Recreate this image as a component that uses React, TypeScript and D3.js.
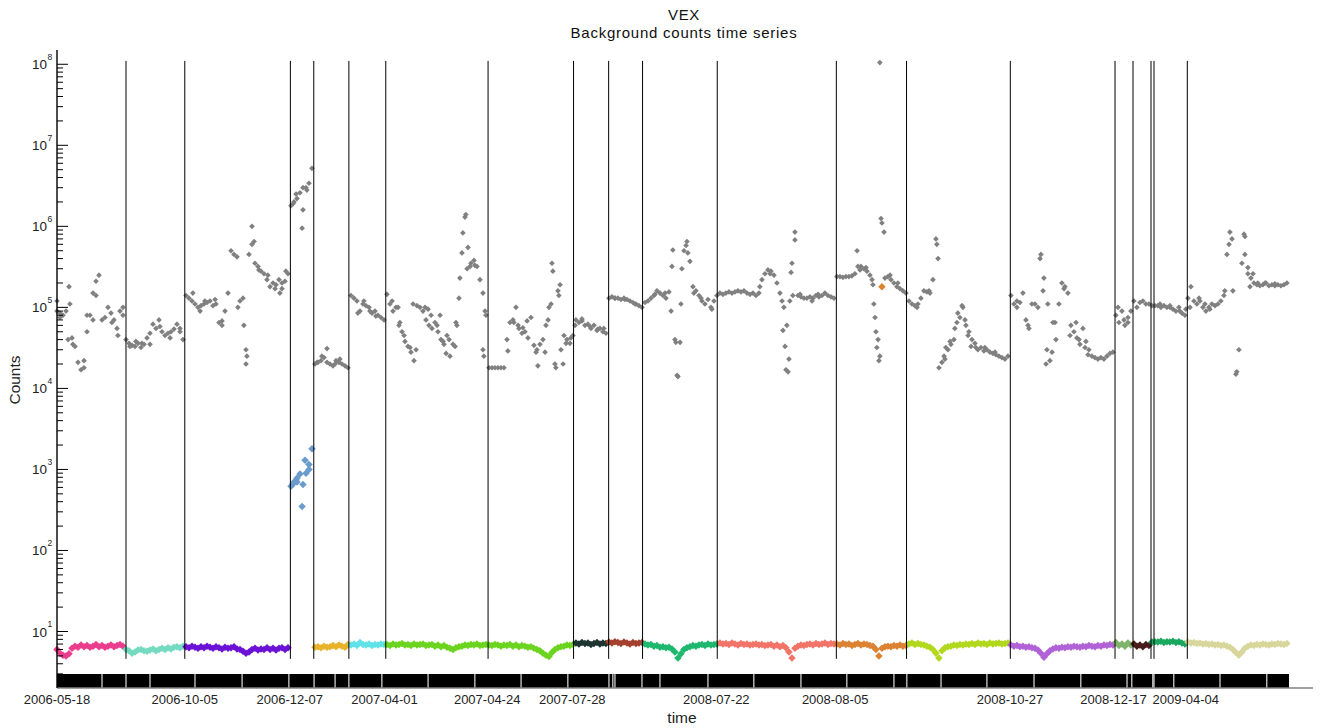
import React from "react";
import * as d3 from "d3";

const WIDTH = 1322;
const HEIGHT = 728;

const titleLines = ["VEX", "Background counts time series"];
const xLabel = "time";
const yLabel = "Counts";

// Background counts per orbit sample, one list per instrument period (sample index runs on across periods)
const backgroundCounts: number[][] = [
  [9.0e4, 8.5e4, 8.0e4, 9.0e4, 1.8e5, 4.2e4, 3.3e4, 2.1e4, 1.7e4, 1.8e4, 5.0e4, 8.0e4, 1.5e5, 2.1e5, 2.5e5, 7.0e4, 7.5e4, 1.0e5, 8.5e4, 7.0e4, 5.5e4, 9.0e4, 1.0e5],
  [4.0e4, 3.6e4, 3.4e4, 3.3e4, 3.6e4, 3.2e4, 3.5e4, 4.2e4, 4.8e4, 6.2e4, 5.5e4, 7.0e4, 5.0e4, 4.5e4, 4.8e4, 5.0e4, 5.4e4, 6.2e4, 5.0e4, 4.0e4],
  [1.4e5, 1.3e5, 1.2e5, 1.1e5, 1.0e5, 1.05e5, 1.1e5, 1.15e5, 1.2e5, 1.05e5, 1.1e5, 6.5e4, 6.0e4, 9.0e4, 1.5e5, 5.0e5, 4.5e5, 4.2e5, 1.2e5, 1.3e5, 3.0e4, 4.5e5, 6.0e5, 3.5e5, 3.2e5, 2.8e5, 2.6e5, 2.2e5, 1.8e5, 2.0e5, 1.9e5, 2.2e5, 1.7e5, 2.1e5, 2.6e5],
  [1.8e6, 2.0e6, 2.2e6, 2.6e6, 1.6e6, 3.0e6, 3.4e6, 5.2e6],
  [2.0e4, 2.1e4, 2.2e4, 2.4e4, 2.1e4, 2.0e4, 1.9e4, 2.2e4, 2.1e4, 2.0e4, 1.9e4, 1.8e4],
  [1.4e5, 1.3e5, 1.2e5, 9.0e4, 1.1e5, 1.05e5, 1.0e5, 8.5e4, 9.0e4, 8.0e4, 7.5e4, 7.0e4],
  [1.45e5, 1.1e5, 9.0e4, 1.0e5, 6.0e4, 5.0e4, 3.8e4, 3.3e4, 2.8e4, 2.2e4, 1.05e5, 1.0e5, 9.0e4, 7.0e4, 6.0e4, 5.5e4, 6.5e4, 5.0e4, 4.0e4, 3.5e4, 4.5e4, 2.5e4, 3.5e4, 6.5e4,
   1.3e5, 4.7e5, 1.3e6, 5.5e5, 3.5e5, 3.8e5, 3.2e5, 2.2e5, 1.5e5, 8.0e4, 1.8e4, 1.8e4, 1.8e4, 1.8e4, 1.8e4, 1.8e4, 4.0e4, 6.5e4, 7.0e4, 1.0e5, 5.5e4, 4.8e4, 5.0e4, 4.2e4,
   7.5e4, 3.4e4, 3.0e4, 3.5e4, 4.0e4, 6.0e4, 1.0e5, 3.5e5, 2.0e4, 1.6e5, 3.0e4, 4.5e4, 4.0e4, 3.6e4, 4.5e4],
  [7.0e4, 6.5e4, 6.8e4, 6.0e4, 6.2e4, 5.5e4, 6.0e4, 5.2e4, 5.5e4, 5.0e4, 4.8e4],
  [1.3e5, 1.35e5, 1.3e5, 1.3e5, 1.25e5, 1.3e5, 1.25e5, 1.2e5, 1.15e5, 1.1e5, 1.05e5, 1.0e5],
  [1.15e5, 1.2e5, 1.3e5, 1.4e5, 1.6e5, 1.5e5, 1.4e5, 1.3e5, 1.55e5, 3.2e5, 4.0e4, 1.4e4, 1.1e5, 5.0e5, 6.5e5, 3.7e5, 1.8e5, 1.6e5, 1.4e5, 1.2e5, 1.1e5, 1.25e5, 1.0e5, 1.2e5, 1.4e5],
  [1.5e5, 1.45e5, 1.5e5, 1.55e5, 1.5e5, 1.55e5, 1.6e5, 1.55e5, 1.6e5, 1.5e5, 1.45e5, 1.5e5, 1.4e5, 1.5e5, 2.2e5, 2.6e5, 2.9e5, 2.8e5, 2.5e5, 2.0e5,
   1.5e5, 5.2e4, 1.7e4, 2.3e4, 3.5e5, 8.5e5, 1.4e5, 1.35e5, 1.3e5, 1.3e5, 1.35e5, 1.3e5, 1.4e5, 1.35e5, 1.4e5, 1.5e5, 1.4e5, 1.35e5, 1.3e5],
  [2.4e5, 2.4e5, 2.35e5, 2.4e5, 2.4e5, 2.45e5, 2.6e5, 3.2e5, 3.2e5, 3.0e5, 2.8e5, 2.5e5, 1.9e5, 5.0e4, 2.2e4, 1.1e6, 2.3e5, 2.4e5, 2.2e5, 2.0e5, 1.8e5, 1.7e5, 1.6e5, 1.5e5],
  [1.2e5, 1.1e5, 1.05e5, 1.1e5, 1.3e5, 1.6e5, 1.55e5, 1.5e5, 2.2e5, 7.0e5, 1.8e4, 2.1e4, 2.3e4, 3.0e4, 3.5e4, 4.0e4, 6.5e4, 7.5e4, 1.0e5, 6.0e4, 5.0e4, 4.0e4, 3.6e4, 3.0e4,
   3.2e4, 2.9e4, 3.0e4, 2.8e4, 2.7e4, 2.6e4, 2.5e4, 2.4e4, 2.3e4, 2.5e4],
  [1.4e5, 1.1e5, 1.0e5, 1.15e5, 1.5e5, 7.0e4, 5.5e4, 1.1e5, 1.1e5, 1.0e5, 4.5e5, 2.3e5, 3.0e4, 2.2e4, 6.5e4, 4.0e4, 1.1e5, 2.0e5, 1.8e5, 1.5e5, 6.0e4, 5.0e4, 4.2e4, 3.5e4,
   5.5e4, 3.8e4, 3.0e4, 2.5e4, 2.4e4, 2.3e4, 2.4e4, 2.3e4, 2.5e4, 2.7e4, 2.8e4],
  [8.0e4, 6.5e4, 9.0e4, 6.0e4, 7.5e4, 9.0e4],
  [1.2e5, 1.0e5, 1.15e5, 1.2e5, 1.1e5, 1.1e5],
  [1.05e5, 1.05e5, 1.05e5, 1.0e5, 1.05e5, 1.0e5, 1.0e5, 9.5e4, 9.0e4, 1.0e5, 8.5e4, 8.0e4],
  [1.3e5, 1.8e5, 1.2e5, 1.1e5, 1.2e5, 1.0e5, 9.0e4, 1.0e5, 1.1e5, 1.05e5, 1.1e5, 1.2e5, 1.4e5, 4.5e5, 8.5e5, 1.6e5, 1.5e4, 3.0e4, 3.5e5, 7.5e5, 2.6e5, 2.3e5, 2.0e5, 1.9e5,
   1.85e5, 1.9e5, 2.0e5, 1.85e5, 1.9e5, 1.85e5, 1.9e5, 1.85e5, 1.9e5, 2.0e5],
];

// Additional background samples sharing an orbit with the series above: [sample index, counts]
const backgroundExtra: [number, number][] = [
  [0, 1.2e5], [1, 7.5e4], [3.7, 4.0e4], [4.3, 1.1e5], [5.3, 3.5e4], [9, 2.2e4], [10, 8.0e4], [12, 7.0e4], [13, 1.4e5], [18.3, 6.5e4], [20.3, 4.5e4], [22, 8.0e4],
  [24.3, 3.3e4], [26.3, 3.8e4], [28.3, 3.6e4], [31, 3.5e4], [34.3, 5.8e4], [37.7, 4.2e4], [41, 5.5e4],
  [45.3, 1.5e5], [47.7, 9.0e4], [49.3, 1.2e5], [52.7, 1.25e5], [55, 6.8e4], [60.3, 1.0e5], [63, 2.0e4], [63.3, 2.5e4], [62.3, 6.0e4], [65, 1.0e6], [65.7, 6.5e5],
  [67.3, 2.9e5], [70.3, 2.5e5], [72.7, 1.7e5], [74.3, 1.5e5], [76.3, 2.8e5], [75, 2.0e5],
  [79.7, 2.5e6], [81.7, 9.5e5], [82, 3.0e6], [83.3, 2.8e6], [78.7, 1.9e6],
  [90, 3.1e4], [88.3, 2.5e4], [94.3, 2.3e4], [86.7, 2.1e4], [92.7, 2.0e4],
  [100.3, 8.5e4], [102.3, 1.2e5], [104.3, 9.0e4], [106.3, 7.8e4],
  [111.7, 1.2e5], [113.7, 1.0e5], [114.3, 6.5e4], [115.7, 4.5e4], [117.7, 3.2e4], [119.7, 3.0e4], [118.7, 1.1e5], [122.7, 1.0e5], [123.7, 9.5e4], [124.7, 8.0e4],
  [126.7, 6.0e4], [127.7, 8.0e4], [128.7, 3.8e4], [129.7, 2.7e4], [130.7, 4.0e4], [132.7, 3.3e4], [133.3, 6.0e4], [134.3, 2.3e5], [135.3, 8.3e5], [136.3, 1.4e6],
  [136.7, 3.0e5], [137.7, 3.2e5], [139.3, 3.3e5], [142, 3.0e4], [142.3, 2.5e4], [142.7, 9.0e4],
  [150.3, 2.9e4], [152.3, 6.5e4], [153.7, 6.0e4], [155.3, 5.6e4], [156.7, 6.8e4], [159.7, 2.8e4], [160.3, 1.9e4], [162.7, 2.8e4], [163.7, 7.0e4], [164.7, 1.1e5],
  [165.3, 2.8e5], [166.3, 1.8e4], [167.3, 1.4e5], [167.7, 1.9e5], [168.7, 2.0e4], [169.7, 3.6e4], [171.3, 4.2e4],
  [172.7, 6.0e4], [175, 7.2e4], [177.7, 5.8e4], [180.3, 5.4e4], [182.3, 5.5e4],
  [186, 1.3e5], [189.3, 1.25e5], [192.7, 1.1e5],
  [204.7, 9.0e4], [205.3, 5.1e5], [206.3, 3.7e4], [206.7, 1.45e4], [207.7, 3.7e4], [208.3, 3.0e5], [209.7, 5.8e5], [210.3, 4.7e5], [212.3, 1.5e5], [214.7, 1.3e5],
  [218.3, 9.5e4], [202.7, 1.5e5], [199.3, 1.45e5],
  [241.7, 1.2e5], [242.3, 1.0e5], [242.7, 3.3e4], [243.3, 6.0e4], [243.7, 1.6e4], [244.3, 1.2e5], [244.7, 2.7e5], [246, 6.8e5], [245.3, 1.4e5], [237.7, 2.6e5],
  [247.7, 1.45e5], [251.7, 1.2e5], [253.7, 1.45e5], [234.3, 1.8e5],
  [266.7, 5.0e5], [267.7, 2.9e5], [269.7, 3.1e5], [271.7, 2.2e5], [272.3, 1.1e5], [272.7, 7.5e4], [273.3, 3.2e4], [274.3, 1.05e8], [274.7, 1.25e6], [275.7, 8.5e5],
  [274.3, 2.5e4], [273.7, 4.0e4], [277.7, 2.5e5], [280.3, 2.0e5],
  [293.3, 6.0e5], [293.7, 4.0e5], [295.7, 2.5e4], [296.3, 3.2e4], [297.7, 3.8e4], [299.3, 5.5e4], [300.3, 8.5e4], [301.7, 1.05e5], [302.7, 7.0e4], [303.7, 4.5e4],
  [304.7, 3.3e4], [306.3, 3.2e4], [309.3, 3.2e4], [312.7, 2.8e4], [286.7, 1.0e5], [290.7, 1.6e5],
  [327.7, 4.0e5], [328.7, 1.6e5], [330.3, 1.1e5], [329.7, 2.0e4], [331.7, 2.8e4], [332.7, 6.5e4], [335.7, 1.7e5], [337.7, 4.5e4], [339.7, 6.5e4], [340.7, 4.0e4],
  [342.7, 3.2e4], [343.7, 2.6e4], [320, 1.2e5], [323.7, 6.0e4],
  [353.7, 1.0e5], [355.7, 7.0e4], [357, 6.5e4],
  [367.7, 1.1e5], [371, 1.05e5], [374.3, 9.0e4], [376.3, 9.5e4],
  [377.7, 1.0e5], [380.7, 1.3e5], [382.7, 1.1e5], [384.3, 9.5e4], [389.3, 1.6e5], [390.7, 6.0e5], [391.7, 7.0e5], [393.3, 1.6e4], [395.7, 8.0e5], [396, 4.5e5],
  [397, 3.1e5], [397.7, 1.8e5], [398.7, 2.6e5], [400.3, 2.0e5], [402.7, 2.0e5], [406, 1.95e5],
];

// Source counts per orbit sample, same periods and lengths as the background lists
const sourceCounts: number[][] = [
  [6.0, 5.4, 5.1, 5.0, 5.3, 6.2, 6.6, 6.4, 6.8, 6.5, 6.7, 6.4, 6.6, 6.9, 6.5, 6.7, 6.4, 6.6, 6.8, 6.5, 6.7, 6.9, 6.6],
  [6.0, 5.8, 5.4, 5.6, 5.9, 6.0, 5.8, 5.7, 5.9, 6.1, 5.8, 6.0, 6.2, 6.0, 6.3, 6.1, 6.4, 6.5, 6.3, 6.6],
  [6.5, 6.3, 6.6, 6.4, 6.2, 6.5, 6.3, 6.6, 6.4, 6.2, 6.5, 6.3, 6.1, 6.4, 6.2, 6.3, 6.5, 6.1, 6.0, 5.7, 5.4, 5.6, 6.0, 6.2, 5.9, 6.1, 6.0, 6.3, 6.0, 6.2, 5.9, 6.2, 6.3, 6.0, 6.3],
  [620, 700, 780, 880, 650, 900, 1150, 1800],
  [6.4, 6.5, 6.3, 6.6, 6.4, 6.5, 6.7, 6.5, 6.8, 6.6, 6.4, 6.9],
  [6.8, 7.0, 6.7, 7.3, 6.9, 6.8, 7.0, 6.7, 6.9, 6.8, 7.0, 6.9],
  [6.9, 6.7, 7.0, 6.8, 6.9, 7.1, 6.8, 6.9, 6.7, 7.0, 6.8, 6.9, 7.0, 6.7, 6.8, 6.9, 6.6, 6.8, 6.5, 6.7, 6.4, 6.2, 6.0, 6.3,
   6.5, 6.6, 6.8, 6.7, 6.9, 6.8, 7.0, 6.7, 6.8, 6.9, 6.8, 6.7, 6.9, 6.8, 6.6, 6.8, 6.7, 6.9, 6.6, 6.8, 6.5, 6.7, 6.6, 6.4,
   6.5, 6.2, 6.0, 5.8, 5.4, 5.1, 4.9, 5.5, 6.0, 6.3, 6.5, 6.6, 6.8, 6.7, 6.9],
  [7.2, 7.0, 7.3, 7.1, 7.2, 6.9, 7.1, 7.3, 7.0, 7.2, 7.1],
  [7.4, 7.2, 7.5, 7.3, 7.1, 7.4, 7.2, 7.0, 7.3, 7.1, 7.2, 7.3],
  [7.0, 6.8, 6.9, 6.6, 6.7, 6.4, 6.5, 6.3, 6.4, 6.1, 5.6, 4.7, 5.3, 6.0, 6.3, 6.5, 6.7, 6.6, 6.8, 6.9, 6.7, 7.0, 6.8, 6.9, 7.0],
  [7.2, 7.0, 7.1, 6.9, 7.2, 7.0, 6.8, 7.1, 6.9, 7.0, 6.8, 6.9, 7.0, 6.8, 6.9, 6.7, 6.8, 6.9, 6.6, 6.8,
   6.5, 6.7, 6.3, 5.6, 4.7, 6.2, 6.6, 6.8, 6.7, 6.9, 7.0, 6.8, 7.1, 6.9, 7.0, 7.2, 6.9, 7.1, 7.0],
  [7.0, 6.8, 7.1, 6.9, 7.0, 6.7, 6.9, 7.1, 6.8, 7.0, 6.9, 6.7, 6.6, 6.0, 5.0, 6.2, 6.5, 6.6, 6.5, 6.7, 6.6, 6.8, 6.6, 6.7],
  [7.0, 7.2, 6.9, 7.1, 6.9, 6.8, 6.6, 6.4, 6.0, 5.4, 4.7, 5.8, 6.3, 6.5, 6.6, 6.8, 6.7, 6.9, 6.8, 7.0,
   6.9, 7.1, 6.9, 7.2, 7.0, 7.1, 6.9, 7.2, 7.0, 7.1, 7.2, 7.0, 7.1, 7.2],
  [6.8, 6.6, 6.7, 6.5, 6.6, 6.4, 6.5, 6.3, 6.2, 5.9, 5.4, 4.8, 5.3, 5.8, 6.1, 6.3, 6.2, 6.4, 6.3, 6.5,
   6.4, 6.6, 6.5, 6.4, 6.6, 6.5, 6.7, 6.6, 6.5, 6.7, 6.6, 6.8, 6.7, 6.9, 6.8],
  [7.3, 6.7, 7.0, 6.6, 7.2, 6.8],
  [7.0, 6.6, 6.8, 6.5, 6.9, 6.7],
  [7.4, 7.5, 7.4, 7.6, 7.3, 7.5, 7.4, 7.6, 7.3, 7.5, 7.2, 7.0],
  [7.4, 7.2, 7.3, 7.1, 7.2, 7.0, 7.1, 6.9, 7.0, 6.8, 6.9, 6.7, 6.8, 6.6, 6.4, 6.0, 5.5, 5.1, 5.6, 6.2,
   6.6, 6.8, 6.7, 6.9, 6.8, 7.0, 6.9, 6.8, 7.0, 6.9, 7.1, 7.0, 6.9, 7.1],
];

// Additional source samples: [sample index, counts]
const sourceExtra: [number, number][] = [
  [81.7, 350], [80, 700], [82.7, 1300], [84, 1000], [78.7, 660], [275, 1.8e5],
];

const sourceColors = [
  "#ea3d8e", "#74dac0", "#6c12d6", "#6b9bcb", "#e8b22a", "#5fe2e8", "#6bd41e", "#1d3431", "#a4402e",
  "#1db86e", "#f27468", "#dc8232", "#b2d81c", "#b062d6", "#7fb46c", "#4a1c1c", "#1aa860", "#d8d69a",
];

// Configuration changes (sample index)
const changeoverIdx = [23, 42.6, 77.8, 85.6, 97.3, 109.6, 143.7, 172.2, 183.9, 195.2, 220.1, 259.8, 283.2, 317.8, 352.7, 358.7, 364.7, 365.7, 376.8];

const dateTickIdx = [0, 42.6, 77.6, 109.2, 143.4, 171.8, 219.8, 259.4, 317.7, 352.2, 376.3];
const dateTickText = ["2006-05-18", "2006-10-05", "2006-12-07", "2007-04-01", "2007-04-24", "2007-07-28", "2008-07-22", "2008-08-05", "2008-10-27", "2008-12-17", "2009-04-04"];

// Orbit tick breaks along the time axis (sample index)
const tickGapIdx = [15, 23, 31, 46, 61.7, 77.3, 85.7, 92.7, 97.3, 108.3, 123.7, 139.3, 154.7, 170.3, 184, 185.3, 186, 195, 201, 217, 232.3, 248, 263.3, 279, 283.3, 294.7, 310, 325.7, 341.3, 356.7, 358.3, 365.3, 365.7, 372.3, 387.7, 403.3];

const sampleSpan = [0, 418.7];
const tickBarEnd = 410.7;
const countDomain = [2.99, 1.5e8];
const changeoverSpan = [4.6, 1.1e8];
const decades = [1, 2, 3, 4, 5, 6, 7, 8];

const FONT = "'Liberation Sans', Arial, Helvetica, sans-serif";

export default function App() {
  const x = d3.scaleLinear().domain(sampleSpan).range([57, 1313]);
  const y = d3.scaleLog().domain(countDomain).range([674, 50]);

  const starts: number[] = [];
  let acc = 0;
  backgroundCounts.forEach((seg) => {
    starts.push(acc);
    acc += seg.length;
  });
  const periodOf = (i: number) => {
    let s = 0;
    for (let k = 0; k < starts.length; k++) if (i >= starts[k] - 0.5) s = k;
    return s;
  };

  const greyPts: [number, number][] = [];
  backgroundCounts.forEach((seg, k) => seg.forEach((v, j) => greyPts.push([starts[k] + j, v])));
  backgroundExtra.forEach((p) => greyPts.push(p));

  const srcPts: [number, number, string][] = [];
  sourceCounts.forEach((seg, k) => seg.forEach((v, j) => srcPts.push([starts[k] + j, v, sourceColors[k]])));
  sourceExtra.forEach(([i, v]) => srcPts.push([i, v, sourceColors[periodOf(i)]]));

  const greyMarker = d3.symbol().type(d3.symbolSquare).size(16)() as string;
  const srcMarker = d3.symbol().type(d3.symbolSquare).size(28)() as string;

  const minorTicks: number[] = [];
  for (let e = 0; e < 8; e++) {
    for (let m = 2; m <= 9; m++) {
      const v = m * Math.pow(10, e);
      if (v >= countDomain[0] && v <= countDomain[1]) minorTicks.push(v);
    }
  }

  const barTop = y(countDomain[0]);
  const barBottom = barTop + 14;
  const axisX = x(sampleSpan[0]);

  return (
    <svg
      width={WIDTH}
      height={HEIGHT}
      style={{ position: "absolute", left: 0, top: 0, background: "#fff" }}
      fontFamily={FONT}
    >
      <rect x={0} y={0} width={WIDTH} height={HEIGHT} fill="#fff" />

      {/* title */}
      <text x={684} y={20} textAnchor="middle" fontSize={15} fill="#111" letterSpacing={0.6}>
        {titleLines[0]}
      </text>
      <text x={684} y={38} textAnchor="middle" fontSize={15} fill="#111" letterSpacing={0.75}>
        {titleLines[1]}
      </text>

      {/* background counts */}
      <g fill="#808080">
        {greyPts.map(([i, v], k) => (
          <path key={k} d={greyMarker} transform={`translate(${x(i)},${y(v)}) rotate(45)`} />
        ))}
      </g>

      {/* source counts coloured by period */}
      <g>
        {srcPts.map(([i, v, c], k) => (
          <path key={k} d={srcMarker} fill={c} transform={`translate(${x(i)},${y(v)}) rotate(45)`} />
        ))}
      </g>

      {/* configuration change markers */}
      <g stroke="#000" strokeWidth={1}>
        {changeoverIdx.map((i, k) => (
          <line key={k} x1={x(i)} x2={x(i)} y1={y(changeoverSpan[1])} y2={y(changeoverSpan[0])} />
        ))}
      </g>

      {/* orbit tick bar */}
      <rect x={axisX} y={barTop} width={x(tickBarEnd) - axisX} height={barBottom - barTop} fill="#000" />
      <g stroke="#f2f2f2" strokeWidth={1.1}>
        {tickGapIdx.map((i, k) => (
          <line key={k} x1={x(i)} x2={x(i)} y1={barTop} y2={barBottom} />
        ))}
      </g>
      <line x1={axisX} x2={x(sampleSpan[1])} y1={barBottom} y2={barBottom} stroke="#808080" strokeWidth={1.5} />

      {/* y axis */}
      <line x1={axisX} x2={axisX} y1={50} y2={barBottom} stroke="#000" strokeWidth={1.4} />
      <g stroke="#000" strokeWidth={1}>
        {decades.map((e) => (
          <line key={"M" + e} x1={axisX} x2={axisX + 11} y1={y(Math.pow(10, e))} y2={y(Math.pow(10, e))} />
        ))}
        {minorTicks.map((v, k) => (
          <line key={"m" + k} x1={axisX} x2={axisX + 6} y1={y(v)} y2={y(v)} />
        ))}
      </g>
      <g fill="#222">
        {decades.map((e) => {
          const ty = y(Math.pow(10, e));
          return (
            <g key={e}>
              <text x={47} y={ty + 5} textAnchor="end" fontSize={13.5}>
                10
              </text>
              <text x={47.5} y={ty - 4.5} fontSize={8.5}>
                {e}
              </text>
            </g>
          );
        })}
      </g>
      <text
        transform={`translate(20,380) rotate(-90)`}
        textAnchor="middle"
        fontSize={15.5}
        fill="#222"
      >
        {yLabel}
      </text>

      {/* x tick labels */}
      <g fill="#222" fontSize={13}>
        {dateTickIdx.map((i, k) => (
          <text key={k} x={x(i)} y={704} textAnchor="middle">
            {dateTickText[k]}
          </text>
        ))}
      </g>
      <text x={682} y={723} textAnchor="middle" fontSize={15.5} fill="#222">
        {xLabel}
      </text>
    </svg>
  );
}
